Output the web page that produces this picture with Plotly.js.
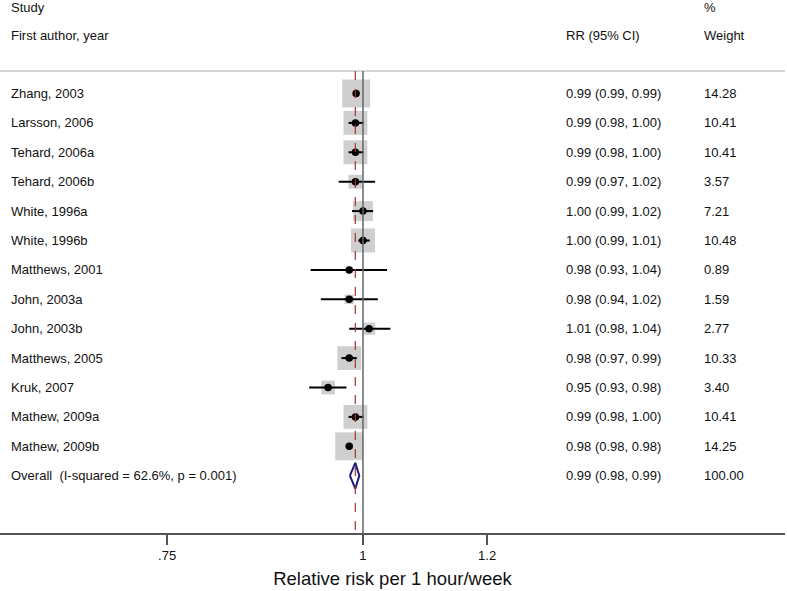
<!DOCTYPE html>
<html>
<head>
<meta charset="utf-8">
<script src="https://cdn.plot.ly/plotly-3.0.1.min.js"></script>
<style>html,body{margin:0;padding:0;background:#fff;}#chart{width:787px;height:591px;}</style>
</head>
<body>
<div id="chart"></div>
<script>
// ---- data ----
var studies = ["Zhang, 2003","Larsson, 2006","Tehard, 2006a","Tehard, 2006b","White, 1996a","White, 1996b",
  "Matthews, 2001","John, 2003a","John, 2003b","Matthews, 2005","Kruk, 2007","Mathew, 2009a","Mathew, 2009b"];
var rr   = [0.990,0.989,0.989,0.989,1.000,1.000,0.980,0.980,1.009,0.980,0.950,0.989,0.980];
var lo   = [0.988,0.979,0.979,0.965,0.984,0.993,0.926,0.940,0.980,0.969,0.924,0.979,0.978];
var hi   = [0.992,1.001,1.001,1.018,1.015,1.010,1.036,1.022,1.041,0.991,0.976,1.001,0.982];
var rrText = ["0.99 (0.99, 0.99)","0.99 (0.98, 1.00)","0.99 (0.98, 1.00)","0.99 (0.97, 1.02)","1.00 (0.99, 1.02)",
  "1.00 (0.99, 1.01)","0.98 (0.93, 1.04)","0.98 (0.94, 1.02)","1.01 (0.98, 1.04)","0.98 (0.97, 0.99)",
  "0.95 (0.93, 0.98)","0.99 (0.98, 1.00)","0.98 (0.98, 0.98)"];
var weights = [14.28,10.41,10.41,3.57,7.21,10.48,0.89,1.59,2.77,10.33,3.40,10.41,14.25];
var overallLabel = "Overall  (I-squared = 62.6%, p = 0.001)";
var overallRR = 0.9888, overallLo = 0.981, overallHi = 0.9946;
var overallText = "0.99 (0.98, 0.99)", overallWeight = "100.00";
var tickVals = [0.75, 1, 1.2];
var tickText = [".75", "1", "1.2"];

// ---- layout helpers ----
var FONT = "Liberation Sans, Arial, sans-serif";
var rows = studies.map(function(_, i){ return i; });
var overallRow = studies.length;
var yTop = -3.18, yBot = 14.949;
var xMin = Math.pow(10, -0.23148), xMax = Math.pow(10, 0.26913);

var traces = [];
// weight boxes
traces.push({
  type: "scatter", mode: "markers", x: rr, y: rows, hoverinfo: "skip",
  marker: {symbol: "square", color: "#bababa",
    size: weights.map(function(w){ return 7.4 * Math.sqrt(w); }), line: {width: 0}}
});
// CI lines
var cx = [], cy = [];
for (var i = 0; i < rr.length; i++) { cx.push(lo[i], hi[i], null); cy.push(i, i, null); }
traces.push({type: "scatter", mode: "lines", x: cx, y: cy, hoverinfo: "skip",
  line: {color: "#000", width: 2}});
// point estimates
traces.push({type: "scatter", mode: "markers", x: rr, y: rows, hoverinfo: "skip",
  marker: {symbol: "circle", color: "#000", size: 7.5}});
// overall diamond
traces.push({type: "scatter", mode: "lines", hoverinfo: "skip",
  x: [overallLo, overallRR, overallHi, overallRR, overallLo],
  y: [overallRow, overallRow - 0.44, overallRow, overallRow + 0.44, overallRow],
  line: {color: "#1b1b7a", width: 2}});

var ann = [];
function txt(xp, y, s) {
  ann.push({xref: "paper", yref: "y", x: xp, y: y, text: s, showarrow: false,
    xanchor: "left", yanchor: "middle", font: {family: FONT, size: 13, color: "#111"}});
}
txt(9/787, -2.925, "Study");
txt(9/787, -1.956, "First author, year");
txt(704/787, -2.925, "%");
txt(565/787, -1.956, "RR (95% CI)");
txt(704/787, -1.956, "Weight");
for (var j = 0; j < studies.length; j++) {
  txt(9/787, j, studies[j]);
  txt(565/787, j, rrText[j]);
  txt(704/787, j, weights[j].toFixed(2));
}
txt(9/787, overallRow, overallLabel);
txt(565/787, overallRow, overallText);
txt(704/787, overallRow, overallWeight);

var shapes = [
  {type: "line", xref: "paper", yref: "y", x0: 0, x1: 1, y0: -0.765, y1: -0.765,
    line: {color: "#c8c8c8", width: 1.5}},
  {type: "line", xref: "x", yref: "y", x0: 1, x1: 1, y0: -0.765, y1: yBot,
    line: {color: "#666", width: 1.5}},
  {type: "line", xref: "x", yref: "y", x0: overallRR, x1: overallRR, y0: -0.765, y1: yBot,
    line: {color: "#a83232", width: 1.2, dash: "dash"}}
];

var layout = {
  width: 787, height: 591,
  margin: {l: 0, r: 2, t: 0, b: 58},
  paper_bgcolor: "#fff", plot_bgcolor: "#fff",
  showlegend: false,
  font: {family: FONT, color: "#111"},
  xaxis: {
    type: "log", range: [Math.log10(xMin), Math.log10(xMax)],
    tickvals: tickVals, ticktext: tickText, ticks: "outside", ticklen: 10,
    tickcolor: "#555", tickwidth: 1.5, showgrid: false, zeroline: false,
    showline: true, linecolor: "#555", linewidth: 1.5,
    tickfont: {family: FONT, size: 13, color: "#111"},
    title: {text: "Relative risk per 1 hour/week", standoff: 10,
      font: {family: FONT, size: 18.5, color: "#111"}}
  },
  yaxis: {range: [yBot, yTop], showgrid: false, zeroline: false, showline: false,
    showticklabels: false, ticks: ""},
  shapes: shapes,
  annotations: ann
};

Plotly.newPlot("chart", traces, layout, {displayModeBar: false, staticPlot: true});
</script>
</body>
</html>
